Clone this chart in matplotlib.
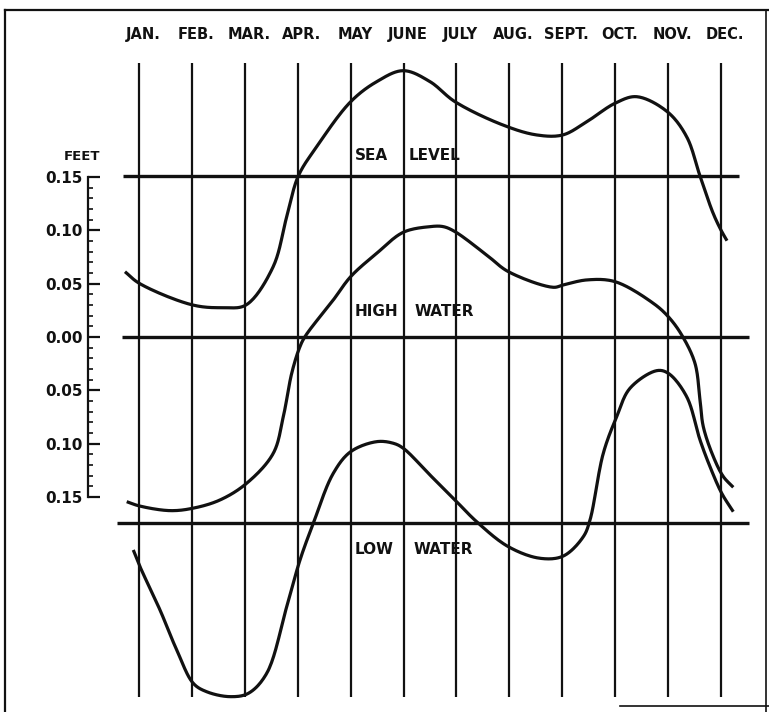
import numpy as np
import matplotlib
matplotlib.use("Agg")
import matplotlib.pyplot as plt
from matplotlib.lines import Line2D
from matplotlib.ticker import FuncFormatter, MultipleLocator

# ---------------- data ----------------
months = ["JAN.", "FEB.", "MAR.", "APR.", "MAY", "JUNE", "JULY",
          "AUG.", "SEPT.", "OCT.", "NOV.", "DEC."]
month_pos = list(range(1, 13))

# reference line offsets (feet, relative to mean high water line)
sea_level_base = 0.151
high_water_base = 0.0
low_water_base = -0.1745

sea_x = [0.735, 1.006, 2.015, 2.588, 3.022, 3.533, 3.792, 4.011, 4.359, 5.001,
         5.493, 5.995, 6.500, 6.972, 7.880, 8.517, 9.008, 9.462, 9.996, 10.406,
         10.985, 11.351, 11.603, 11.849, 11.999, 12.113]
sea_y = [-0.0898, -0.1007, -0.1210, -0.1235, -0.1210, -0.0854, -0.0382, 0.0, 0.0275, 0.0697,
         0.0885, 0.0988, 0.0885, 0.0697, 0.0478, 0.0385, 0.0385, 0.0509, 0.0682, 0.0744,
         0.0603, 0.0368, 0.0, -0.0347, -0.0507, -0.0607]

high_x = [0.768, 1.006, 1.586, 2.015, 2.531, 3.036, 3.538, 3.727, 3.886, 4.030,
          4.137, 4.672, 5.001, 5.493, 5.995, 6.500, 6.751, 6.972, 7.571, 7.980,
          8.830, 9.019, 9.462, 9.996, 10.720, 11.004, 11.257, 11.508, 11.603, 11.665,
          11.855, 12.044, 12.232]
high_y = [-0.1545, -0.1585, -0.1629, -0.1607, -0.1529, -0.1372, -0.1091, -0.0748, -0.0341, -0.0106,
          0.0003, 0.0347, 0.0566, 0.0785, 0.0982, 0.1035, 0.1035, 0.0988, 0.0769, 0.0613,
          0.0466, 0.0488, 0.0535, 0.0519, 0.0316, 0.0190, 0.0019, -0.0247, -0.0591, -0.0841,
          -0.1123, -0.1310, -0.1410]

low_x = [0.892, 1.019, 1.397, 1.713, 2.026, 2.280, 2.720, 3.066, 3.414, 3.792,
         4.043, 4.294, 4.672, 5.001, 5.493, 5.806, 5.995, 6.500, 6.972, 7.382,
         7.980, 8.579, 9.019, 9.397, 9.524, 9.775, 10.028, 10.280, 10.785, 11.004,
         11.351, 11.603, 11.792, 12.013, 12.232]
low_y = [-0.0253, -0.0410, -0.0816, -0.1191, -0.1504, -0.1583, -0.1629, -0.1598, -0.1410, -0.0785,
         -0.0347, -0.0003, 0.0466, 0.0669, 0.0763, 0.0748, 0.0701, 0.0450, 0.0216, 0.0012,
         -0.0222, -0.0331, -0.0310, -0.0129, 0.0028, 0.0654, 0.0997, 0.1264, 0.1429, 0.1404,
         0.1185, 0.0779, 0.0528, 0.0279, 0.0106]

axis_ticks = [-0.15, -0.10, -0.05, 0.0, 0.05, 0.10, 0.15]

# ---------------- helpers ----------------
SX, SY = 52.91, 1066.0   # aspect used only for smoothing parametrisation


def smooth(xs, ys, n=20, alpha=0.5):
    p = np.column_stack([np.asarray(xs) * SX, np.asarray(ys) * SY]).astype(float)
    p = np.vstack([p[0] * 2 - p[1], p, p[-1] * 2 - p[-2]])
    out = []
    for i in range(1, len(p) - 2):
        P0, P1, P2, P3 = p[i - 1], p[i], p[i + 1], p[i + 2]
        t0 = 0.0
        t1 = t0 + max(np.linalg.norm(P1 - P0), 1e-6) ** alpha
        t2 = t1 + max(np.linalg.norm(P2 - P1), 1e-6) ** alpha
        t3 = t2 + max(np.linalg.norm(P3 - P2), 1e-6) ** alpha
        t = np.linspace(t1, t2, n, endpoint=False)[:, None]
        A1 = (t1 - t) / (t1 - t0) * P0 + (t - t0) / (t1 - t0) * P1
        A2 = (t2 - t) / (t2 - t1) * P1 + (t - t1) / (t2 - t1) * P2
        A3 = (t3 - t) / (t3 - t2) * P2 + (t - t2) / (t3 - t2) * P3
        B1 = (t2 - t) / (t2 - t0) * A1 + (t - t0) / (t2 - t0) * A2
        B2 = (t3 - t) / (t3 - t1) * A2 + (t - t1) / (t3 - t1) * A3
        C = (t2 - t) / (t2 - t1) * B1 + (t - t1) / (t2 - t1) * B2
        out.append(C)
    out.append(p[-2][None, :])
    out = np.vstack(out)
    return out[:, 0] / SX, out[:, 1] / SY


INK = "#111111"
W, H = 769, 712
fig = plt.figure(figsize=(W / 100, H / 100), dpi=100)
fig.patch.set_facecolor("white")
ax = fig.add_axes([0, 0, 1, 1])
ax.set_xlim(-1.627, 12.907)
ax.set_ylim(-0.3518, 0.3161)
ax.axis("off")

# vertical month lines
ax.vlines(month_pos, -0.338, 0.257, color=INK, lw=1.6)

# reference lines
ax.hlines(sea_level_base, 0.70, 12.34, color=INK, lw=2.4)
ax.hlines(high_water_base, 0.68, 12.53, color=INK, lw=2.4)
ax.hlines(low_water_base, 0.58, 12.53, color=INK, lw=2.4)

# curves
for xs, ys, base in [(sea_x, sea_y, sea_level_base),
                     (high_x, high_y, high_water_base),
                     (low_x, low_y, low_water_base)]:
    sx, sy = smooth(xs, ys)
    ax.plot(sx, sy + base, color=INK, lw=2.3, solid_capstyle="butt",
            solid_joinstyle="round")

# month labels
for m, lab in zip(month_pos, months):
    ax.text(m + 0.08, 0.2833, lab, ha="center", va="center",
            fontsize=10.5, fontweight="bold", color=INK)

# curve labels
lab_kw = dict(ha="left", va="center", fontsize=11, fontweight="bold", color=INK)
ax.text(5.08, 0.1707, "SEA", **lab_kw)
ax.text(6.10, 0.1707, "LEVEL", **lab_kw)
ax.text(5.08, 0.0235, "HIGH", **lab_kw)
ax.text(6.20, 0.0235, "WATER", **lab_kw)
ax.text(5.08, -0.199, "LOW", **lab_kw)
ax.text(6.18, -0.199, "WATER", **lab_kw)

# feet scale
ax2 = fig.add_axes([88 / W, (H - 497) / H, 0.02, 320 / H])
ax2.set_ylim(-0.15, 0.15)
ax2.patch.set_alpha(0)
for s in ["top", "right", "bottom"]:
    ax2.spines[s].set_visible(False)
ax2.spines["left"].set_linewidth(1.6)
ax2.spines["left"].set_color(INK)
ax2.set_xticks([])
ax2.set_yticks(axis_ticks)
ax2.yaxis.set_minor_locator(MultipleLocator(0.01))
ax2.yaxis.set_major_formatter(FuncFormatter(lambda v, p: f"{abs(v):.2f}"))
ax2.tick_params(axis="y", which="major", direction="in", length=8.6, width=1.6,
                pad=4, labelsize=11, colors=INK)
ax2.tick_params(axis="y", which="minor", direction="in", length=3.6, width=1.2, colors=INK)
for t in ax2.get_yticklabels():
    t.set_fontweight("bold")
fig.text(82 / W, 1 - 157 / H, "FEET", ha="center", va="center",
         fontsize=9.5, fontweight="bold", color=INK)

# frame
fig.add_artist(Line2D([5 / W, 5 / W], [0, 1 - 10 / H], color=INK, lw=1.6))
fig.add_artist(Line2D([5 / W, 1], [1 - 10 / H, 1 - 10 / H], color=INK, lw=1.6))
fig.add_artist(Line2D([766 / W, 766 / W], [0, 1 - 10 / H], color=INK, lw=1.2))
fig.add_artist(Line2D([620 / W, 1], [6 / H, 6 / H], color=INK, lw=1.2))

fig.savefig("out.png", dpi=100, facecolor="white")
